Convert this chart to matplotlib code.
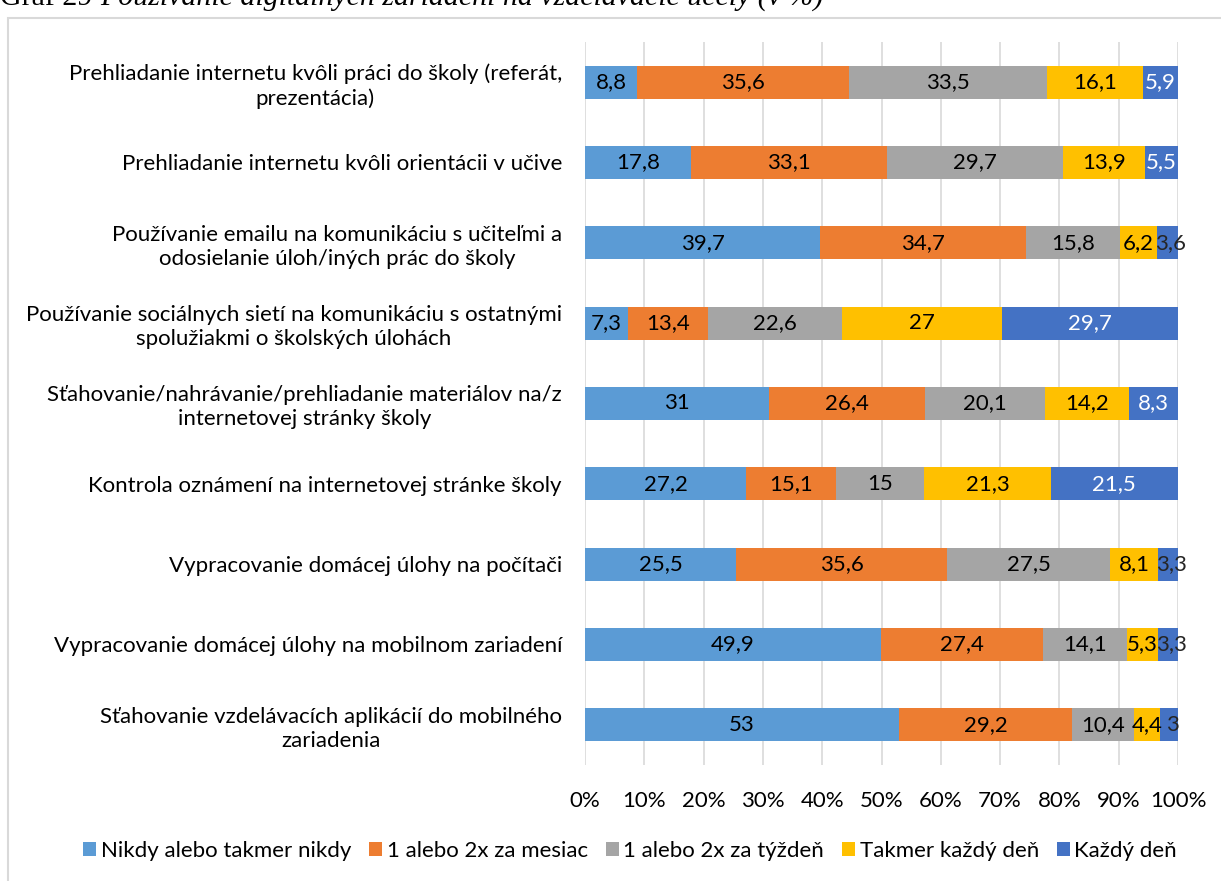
import matplotlib.pyplot as plt
from matplotlib.patches import Rectangle
import matplotlib.transforms as mtrans
import numpy as np

# kategórie (zhora nadol)
categories = [
    'Prehliadanie internetu kvôli práci do školy (referát,\nprezentácia)',
    'Prehliadanie internetu kvôli orientácii v učive',
    'Používanie emailu na komunikáciu s učiteľmi a\nodosielanie úloh/iných prác do školy',
    'Používanie sociálnych sietí na komunikáciu s ostatnými\nspolužiakmi o školských úlohách',
    'Sťahovanie/nahrávanie/prehliadanie materiálov na/z\ninternetovej stránky školy',
    'Kontrola oznámení na internetovej stránke školy',
    'Vypracovanie domácej úlohy na počítači',
    'Vypracovanie domácej úlohy na mobilnom zariadení',
    'Sťahovanie vzdelávacích aplikácií do mobilného\nzariadenia',
]

series_names = ['Nikdy alebo takmer nikdy', '1 alebo 2x za mesiac',
                '1 alebo 2x za týždeň', 'Takmer každý deň', 'Každý deň']

nikdy = [8.8, 17.8, 39.7, 7.3, 31, 27.2, 25.5, 49.9, 53]
mesiac = [35.6, 33.1, 34.7, 13.4, 26.4, 15.1, 35.6, 27.4, 29.2]
tyzden = [33.5, 29.7, 15.8, 22.6, 20.1, 15, 27.5, 14.1, 10.4]
takmer = [16.1, 13.9, 6.2, 27, 14.2, 21.3, 8.1, 5.3, 4.4]
kazdy = [5.9, 5.5, 3.6, 29.7, 8.3, 21.5, 3.3, 3.3, 3]

colors = ['#5B9BD5', '#ED7D31', '#A5A5A5', '#FFC000', '#4472C4']

plt.rcParams['font.family'] = ['Lato', 'DejaVu Sans']
FS = 16

fig = plt.figure(figsize=(12.21, 8.81), dpi=100)
ax = fig.add_axes([585 / 1221, 1 - 765 / 881, (1178 - 585) / 1221, (765 - 42) / 881])

data = np.array([nikdy, mesiac, tyzden, takmer, kazdy], dtype=float)
pct = data / data.sum(axis=0) * 100
y = np.arange(len(categories))

left = np.zeros(len(categories))
for i, name in enumerate(series_names):
    bars = ax.barh(y, pct[i], left=left, height=0.41, color=colors[i],
                   label=name, zorder=3)
    for j, b in enumerate(bars):
        v = data[i, j]
        txt = f'{v:g}'.replace('.', ',')
        cx = left[j] + pct[i, j] / 2
        col = 'black'
        if i == 4:
            col = 'white' if v > 5 else '#262626'
            if v < 5:
                cx += 0.5
        ax.text(cx, j, txt, ha='center', va='center', fontsize=FS,
                color=col, zorder=4)
    left += pct[i]

ax.set_xlim(0, 100)
ax.set_ylim(len(categories) - 0.5, -0.5)
ax.set_yticks(y)
ax.set_yticklabels(categories, fontsize=FS, linespacing=1.25)
ax.tick_params(axis='y', length=0, pad=0)
ax.set_xticks(np.arange(0, 101, 10))
ax.set_xticklabels([f'{t}%' for t in range(0, 101, 10)], fontsize=FS)
ax.tick_params(axis='x', length=0, pad=19)
ax.grid(axis='x', color='#d9d9d9', linewidth=1.2, zorder=0)
for s in ax.spines.values():
    s.set_visible(False)

# popisy kategórií: centrované riadky, pravý okraj pri 562 px
tr = mtrans.blended_transform_factory(fig.transFigure, ax.transData)
for lbl in ax.get_yticklabels():
    lbl.set_ha('right')
    lbl.set_multialignment('center')
    lbl.set_transform(tr)
    lbl.set_x(562 / 1221)

ax.legend(loc='center', bbox_to_anchor=(630 / 1221, 1 - 851 / 881),
          bbox_transform=fig.transFigure, ncol=5, frameon=False,
          fontsize=FS, handlelength=0.6, handleheight=0.6,
          handletextpad=0.2, columnspacing=0.8)

# rámček grafu
fig.patches.append(Rectangle((8 / 1221, -0.05), 1.1, 1 - 18 / 881 + 0.05,
                             transform=fig.transFigure, fill=False,
                             edgecolor='#d9d9d9', linewidth=1.5))

# nadpis (orezaný hore)
t1 = fig.text(0, 1 - 5 / 881, 'Graf 29 ', fontsize=21.5, family='Liberation Serif',
              va='baseline')
fig.canvas.draw()
bb = t1.get_window_extent()
fig.text(bb.x1 / fig.bbox.width, 1 - 5 / 881,
         'Používanie digitálnych zariadení na vzdelávacie účely (v %)',
         fontsize=21.5, family='Liberation Serif', style='italic', va='baseline')

plt.savefig('out.png', dpi=100)
